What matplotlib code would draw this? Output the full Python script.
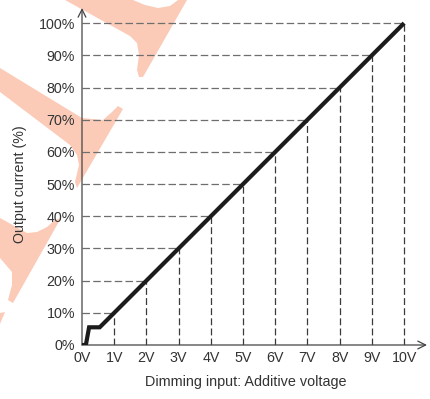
import numpy as np
import matplotlib
matplotlib.use("Agg")
import matplotlib.pyplot as plt
from matplotlib.patches import Polygon

plt.rcParams['font.family'] = ['Liberation Sans', 'DejaVu Sans']

# dimming curve: output current vs. control voltage
curve_v = [0, 0.12, 0.22, 0.55, 10]
curve_i = [0, 0, 5.5, 5.5, 100]

volt_ticks = [0, 1, 2, 3, 4, 5, 6, 7, 8, 9, 10]
volt_labels = ['0V', '1V', '2V', '3V', '4V', '5V', '6V', '7V', '8V', '9V', '10V']
pct_ticks = [0, 10, 20, 30, 40, 50, 60, 70, 80, 90, 100]
pct_labels = ['0%', '10%', '20%', '30%', '40%', '50%', '60%', '70%', '80%', '90%', '100%']

W, H = 430, 399
fig = plt.figure(figsize=(W / 100, H / 100), dpi=100)


def px(pts):
    return [(x / W, 1 - y / H) for x, y in pts]


# faint logo stamped behind the chart
stamp = '#fbcbb8'
stamp_shapes = [
    [(65, 0), (133, 0), (145, 5), (158, 8), (170, 6), (178, 0), (187, 0),
     (143, 77), (139, 77), (137, 70), (139, 55), (137, 43), (130, 36)],
    [(0, 68), (82, 118), (103, 120), (112, 112), (118, 106), (123, 109),
     (77, 188), (75, 182), (79, 165), (77, 155), (70, 145), (0, 92)],
    [(0, 218), (27, 233), (37, 232), (47, 227), (55, 220), (61, 218),
     (13, 303), (8, 300), (12, 285), (12, 272), (6, 265), (0, 258)],
    [(0, 313), (5, 312), (0, 324)],
]
for shape in stamp_shapes:
    fig.patches.append(Polygon(px(shape), closed=True, transform=fig.transFigure,
                               facecolor=stamp, edgecolor='none', zorder=-5))

ax = fig.add_axes([82 / W, 1 - 345 / H, (427 - 82) / W, (345 - 8) / H])
ax.set_facecolor('none')
ax.set_xlim(0, 10.71)
ax.set_ylim(0, 104.7)

# guide lines from each tick to the curve
for lvl in pct_ticks[1:]:
    ax.plot([0, lvl / 10], [lvl, lvl], color='#6e6e6e', lw=0.9,
            dashes=(6, 2.6), zorder=2)
for v in volt_ticks[1:]:
    ax.plot([v, v], [0, v * 10], color='#3a3a3a', lw=0.9,
            dashes=(5.5, 2.6), zorder=2)

ax.plot(curve_v, curve_i, color='#1c1c1c', lw=3.0, solid_joinstyle='miter',
        solid_capstyle='butt', zorder=4)

for s in ax.spines.values():
    s.set_visible(False)
arrow = dict(arrowstyle='->', lw=0.9, color='#444444', mutation_scale=14,
             shrinkA=0, shrinkB=0)
ax.annotate('', xy=(1, 0), xytext=(0, 0), xycoords='axes fraction', arrowprops=arrow)
ax.annotate('', xy=(0, 1), xytext=(0, 0), xycoords='axes fraction', arrowprops=arrow)

ax.set_xticks(volt_ticks)
ax.set_xticklabels(volt_labels)
ax.set_yticks(pct_ticks)
ax.set_yticklabels(pct_labels)
ax.tick_params(length=0, labelsize=10.3, labelcolor='#333333')
ax.tick_params(axis='x', pad=4)
ax.tick_params(axis='y', pad=5)

fig.text(20 / W, 1 - 184 / H, 'Output current (%)', rotation=90, fontsize=10.3,
         color='#333333', ha='center', va='center')
fig.text(246 / W, 1 - 382 / H, 'Dimming input: Additive voltage', fontsize=10.4,
         color='#333333', ha='center', va='center')

fig.savefig('out.png', dpi=100)
